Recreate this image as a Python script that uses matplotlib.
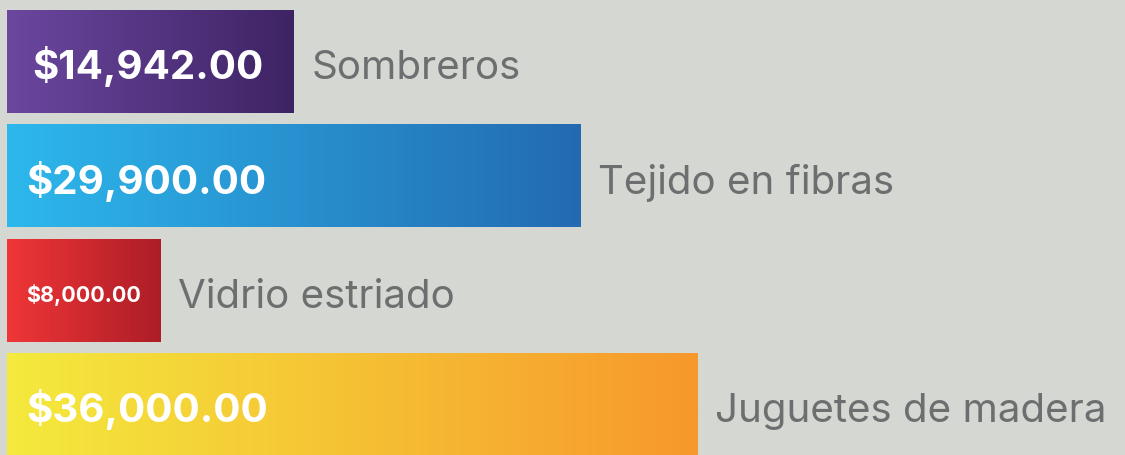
import matplotlib
matplotlib.use("Agg")
import matplotlib.pyplot as plt
import numpy as np
from matplotlib.colors import LinearSegmentedColormap

categories = ["Sombreros", "Tejido en fibras", "Vidrio estriado", "Juguetes de madera"]
values = [14942, 29900, 8000, 36000]
value_labels = ["$14,942.00", "$29,900.00", "$8,000.00", "$36,000.00"]
grad_left = ["#6b479f", "#2db8ec", "#f03637", "#f4ea3d"]
grad_right = ["#3e2364", "#236ab2", "#ad1d27", "#f7982c"]
label_sizes = [29, 29, 15.5, 29]

bg = "#d5d7d2"
fig = plt.figure(figsize=(11.25, 4.55), dpi=100, facecolor=bg)
ax = fig.add_axes([0, 0, 1, 1])
ax.set_facecolor(bg)

# scale: 0 at 7px, 36000 at 697px
px = 36000 / 690
ax.axis("off")

ypos = np.arange(len(values))
bars = ax.barh(ypos, values, height=0.9, color="none", edgecolor="none")

grad = np.linspace(0, 1, 256).reshape(1, -1)
for i, b in enumerate(bars):
    cmap = LinearSegmentedColormap.from_list("g%d" % i, [grad_left[i], grad_right[i]])
    x0, y0 = b.get_x(), b.get_y()
    im = ax.imshow(grad, cmap=cmap, aspect="auto",
                   extent=[x0, x0 + b.get_width(), y0 + b.get_height(), y0],
                   zorder=2)
    im.set_clip_path(b)

ax.set_xlim(-7 * px, 1118 * px)
ax.set_ylim(3.44, -0.538)

offsets = [25, 19, 19, 19]
for i, v in enumerate(values):
    ax.text(offsets[i] * px, ypos[i] + 0.045, value_labels[i], color="white",
            fontsize=label_sizes[i], fontweight="bold", family="Inter",
            va="center", ha="left", zorder=3)
    ax.text(v + 18 * px, ypos[i] + 0.06, categories[i], color="#6d6e70",
            fontsize=29, family="Inter", va="center", ha="left", zorder=3)

fig.savefig("out.png", dpi=100, facecolor=bg)
